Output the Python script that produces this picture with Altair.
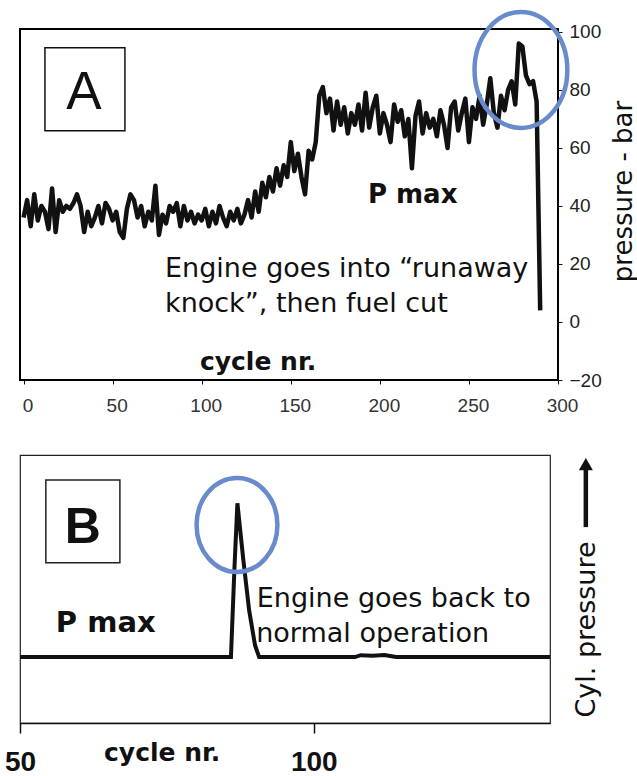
import altair as alt
import pandas as pd

# ---------------- Panel A: P max per cycle (runaway knock) ----------------
a_cycles = list(range(0, 292, 2))
a_pmax = [
    36, 42, 33, 44, 35, 40, 38, 32, 46, 31,
    42, 38, 40, 39, 41, 44, 40, 31, 38, 33,
    36, 40, 34, 41, 39, 35, 38, 31, 29, 39,
    44, 42, 36, 40, 33, 38, 35, 47, 30, 37,
    34, 40, 38, 41, 33, 40, 35, 38, 34, 37,
    35, 39, 33, 38, 34, 40, 36, 33, 38, 35,
    39, 34, 37,
    42, 36, 45, 38, 48, 43, 50, 45, 53, 47,
    54, 50, 62, 52, 58, 50, 44, 59, 56, 62,
    78, 81, 72, 77, 66, 76,
    68, 74, 65, 72, 68, 75, 66, 79, 67, 74,
    78, 65, 72, 68, 62, 75, 69, 73, 64, 70,
    53, 71, 76, 65, 72, 67, 70, 64, 73, 68,
    60, 74, 76, 66, 72, 77, 62, 74, 70, 78,
    68, 75, 84, 72, 67, 78, 73, 80, 83, 75,
    96, 95, 85, 82, 83, 76, 4,
]
a_xticks = [0, 50, 100, 150, 200, 250, 300]
a_yticks = [-20, 0, 20, 40, 60, 80, 100]

# ---------------- Panel B: P max, engine returns to normal ----------------
b_cycles = [50, 85.9, 86.5, 87.0, 88.0, 89.0, 90.0, 90.7, 107, 108, 110, 112, 114, 140.2]
b_pmax = [24.6, 24.6, 58, 82, 61, 42, 29, 24.6, 24.6, 25.3, 25.1, 25.4, 24.6, 24.6]
b_xticks = [50, 100]

# ---------------- annotations ----------------
a_box = {"x1": [12.0], "x2": [56.9], "y1": [94.5], "y2": [65.9]}
a_letter = {"cycle": [33.9], "pmax": [73.4], "label": ["A"]}
a_pm = {"cycle": [193.3], "pmax": [41.0], "label": ["P max"]}
a_note = {"cycle": [79.4, 79.4], "pmax": [15.5, 3.4],
          "label": ["Engine goes into \u201crunaway", "knock\u201d, then fuel cut"]}
a_xlab = {"cycle": [99.0], "pmax": [-16.6], "label": ["cycle nr."]}
a_ring = {"cycle": [279.2], "pmax": [86.9]}

b_box = {"x1": [54.4], "x2": [67.0], "y1": [90.7], "y2": [59.8]}
b_letter = {"cycle": [60.7], "pmax": [67.05], "label": ["B"]}
b_pm = {"cycle": [56.1], "pmax": [34.0], "label": ["P max"]}
b_note = {"cycle": [90.3, 90.2], "pmax": [43.3, 30.2],
          "label": ["Engine goes back to", "normal operation"]}
b_xlab = {"cycle": [64.3], "pmax": [-14.0], "label": ["cycle nr."]}
b_ring = {"cycle": [86.93], "pmax": [73.9]}
b_arrow = {"cycle": [146.3], "y1": [73.1], "y2": [94.4], "head": [96.6]}

BLUE = "#6a8bcb"
LABEL_FONT = "Liberation Sans"
NOTE_FONT = "DejaVu Sans"
ELLIPSE_A = "M -0.8 0 A 0.8 1 0 1 1 0.8 0 A 0.8 1 0 1 1 -0.8 0 Z"
ELLIPSE_B = "M -0.86 0 A 0.86 1 0 1 1 0.86 0 A 0.86 1 0 1 1 -0.86 0 Z"

# ---------------- Panel A chart ----------------
xa = alt.Scale(domain=[-2, 300], nice=False, zero=False)
ya = alt.Scale(domain=[-20, 101], nice=False, zero=False)

lineA = alt.Chart(pd.DataFrame({"cycle": a_cycles, "pmax": a_pmax})).mark_line(
    color="#111", strokeWidth=4.5, strokeJoin="round"
).encode(
    x=alt.X("cycle:Q", scale=xa, axis=alt.Axis(
        values=a_xticks, title=None, domain=False, grid=False, tickSize=4,
        tickColor="#111", labelFont=LABEL_FONT, labelFontSize=19,
        labelColor="#333", labelPadding=12, labelOffset=4, labelFlush=False,
        labelOverlap=False)),
    y=alt.Y("pmax:Q", scale=ya, axis=alt.Axis(
        orient="right", values=a_yticks, domain=False, grid=False, tickSize=4,
        tickColor="#111", labelFont=LABEL_FONT, labelFontSize=19,
        labelColor="#222", labelPadding=7, labelFlush=False, labelOverlap=False,
        title="pressure - bar", titleFont=NOTE_FONT, titleFontSize=26,
        titleFontWeight="normal", titleColor="#111", titleAngle=270,
        titleX=65, titleY=162, titleAlign="center", titleBaseline="middle")),
)

boxA = alt.Chart(pd.DataFrame(a_box)).mark_rect(
    fill="white", stroke="#111", strokeWidth=1.5
).encode(x=alt.X("x1:Q", scale=xa), x2="x2:Q", y=alt.Y("y1:Q", scale=ya), y2="y2:Q")


def txt(data, xs, ys, font, size, weight="normal", align="left"):
    return alt.Chart(pd.DataFrame(data)).mark_text(
        font=font, fontSize=size, fontWeight=weight, align=align,
        baseline="alphabetic", color="#111"
    ).encode(x=alt.X("cycle:Q", scale=xs), y=alt.Y("pmax:Q", scale=ys), text="label:N")


letterA = txt(a_letter, xa, ya, LABEL_FONT, 53, align="center")
pmA = txt(a_pm, xa, ya, NOTE_FONT, 26, weight="bold")
noteA = txt(a_note, xa, ya, NOTE_FONT, 27)
xlabA = txt(a_xlab, xa, ya, NOTE_FONT, 25, weight="bold")
ringA = alt.Chart(pd.DataFrame(a_ring)).mark_point(
    shape=ELLIPSE_A, size=13456, filled=False, stroke=BLUE, strokeWidth=4.5, opacity=1
).encode(x=alt.X("cycle:Q", scale=xa), y=alt.Y("pmax:Q", scale=ya))

panelA = alt.layer(lineA, boxA, letterA, pmA, noteA, xlabA, ringA).properties(
    width=538, height=351,
    view=alt.ViewBackground(stroke="#000", strokeWidth=2, fill="white"),
)

# ---------------- Panel B chart ----------------
xb = alt.Scale(domain=[50, 140.2], nice=False, zero=False)
yb = alt.Scale(domain=[0, 100], nice=False, zero=False)

lineB = alt.Chart(pd.DataFrame({"cycle": b_cycles, "pmax": b_pmax})).mark_line(
    color="#111", strokeWidth=4
).encode(
    x=alt.X("cycle:Q", scale=xb, axis=alt.Axis(
        values=b_xticks, title=None, domain=True, domainColor="#111", domainWidth=1.5,
        grid=False, tickSize=10, tickWidth=1.5, tickColor="#111",
        labelFont=LABEL_FONT, labelFontSize=28, labelFontWeight="bold",
        labelColor="#111", labelPadding=15, labelFlush=False, labelOverlap=False)),
    y=alt.Y("pmax:Q", scale=yb, axis=alt.Axis(
        orient="right", labels=False, ticks=False, domain=False, grid=False,
        title="Cyl. pressure", titleFont=NOTE_FONT, titleFontSize=27,
        titleFontWeight="normal", titleColor="#111", titleAngle=270,
        titleX=36, titleY=174, titleAlign="center", titleBaseline="middle")),
)

boxB = alt.Chart(pd.DataFrame(b_box)).mark_rect(
    fill="white", stroke="#222", strokeWidth=1.5
).encode(x=alt.X("x1:Q", scale=xb), x2="x2:Q", y=alt.Y("y1:Q", scale=yb), y2="y2:Q")

letterB = txt(b_letter, xb, yb, LABEL_FONT, 50, weight="bold", align="center")
pmB = txt(b_pm, xb, yb, NOTE_FONT, 29, weight="bold")
noteB = txt(b_note, xb, yb, NOTE_FONT, 27)
xlabB = txt(b_xlab, xb, yb, NOTE_FONT, 25, weight="bold")
ringB = alt.Chart(pd.DataFrame(b_ring)).mark_point(
    shape=ELLIPSE_B, size=8836, filled=False, stroke=BLUE, strokeWidth=4.5, opacity=1
).encode(x=alt.X("cycle:Q", scale=xb), y=alt.Y("pmax:Q", scale=yb))

arrowLine = alt.Chart(pd.DataFrame(b_arrow)).mark_rule(
    color="#111", strokeWidth=4.5
).encode(x=alt.X("cycle:Q", scale=xb), y=alt.Y("y1:Q", scale=yb), y2="y2:Q")
arrowHead = alt.Chart(pd.DataFrame(b_arrow)).mark_point(
    shape="triangle-up", size=196, filled=True, color="#111", opacity=1
).encode(x=alt.X("cycle:Q", scale=xb), y=alt.Y("head:Q", scale=yb))

panelB = alt.layer(lineB, boxB, letterB, pmB, noteB, xlabB, ringB, arrowLine, arrowHead).properties(
    width=530, height=268,
    view=alt.ViewBackground(stroke="#222", strokeWidth=1.2, fill="white"),
)

chart = alt.vconcat(panelA, panelB, spacing=75, bounds="flush").properties(
    padding={"left": 3, "top": 1, "right": 0, "bottom": 0},
    background="white",
).configure_axis(grid=False)

chart.save("out.html", embed_options={"renderer": "svg", "actions": False})
